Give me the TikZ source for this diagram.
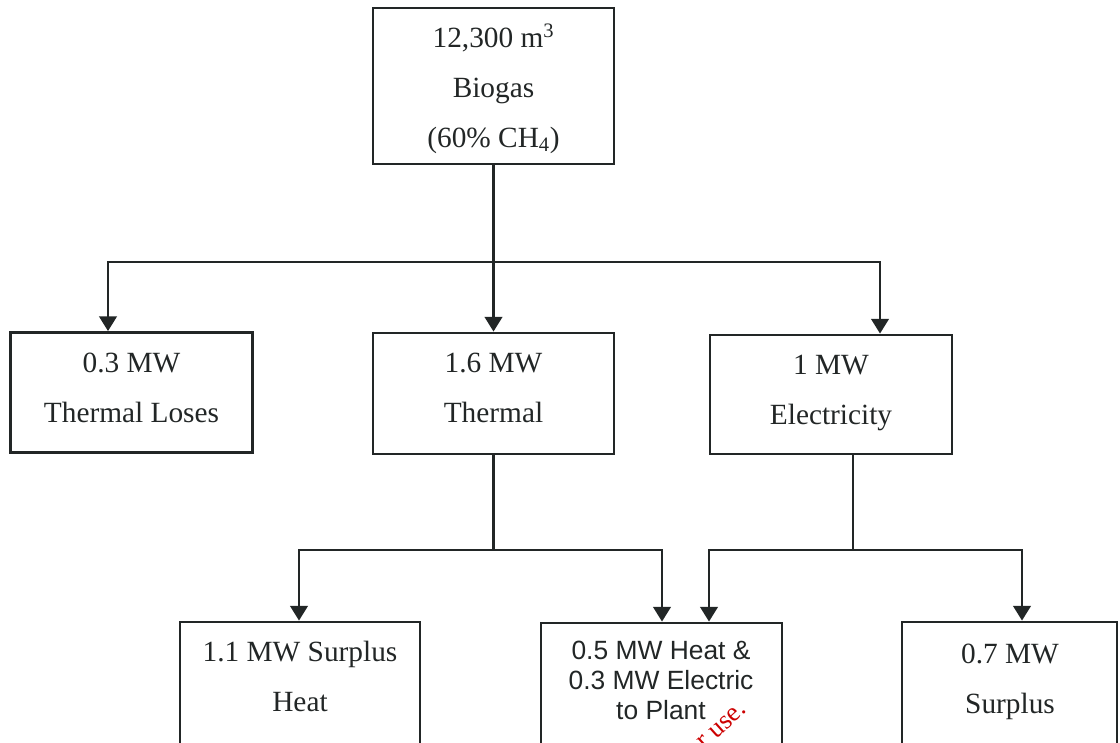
\documentclass[tikz,border=0pt]{standalone}
\usepackage{fontspec}
\setmainfont{Liberation Serif}
\newfontfamily\arialf{Liberation Sans}
\usetikzlibrary{arrows.meta}
\definecolor{ink}{HTML}{222626}
\tikzset{
  box/.style={draw=ink, line width=2.1pt, rectangle, inner sep=0pt},
  txt/.style={align=center, text=ink, inner sep=0pt, font=\fontsize{22}{37.5}\selectfont},
  stxt/.style={align=center, text=ink, inner sep=0pt, font=\arialf\fontsize{19.8}{22.5}\selectfont},
  link/.style={draw=ink, line width=2.1pt},
  arr/.style={draw=ink, line width=2.1pt, -{Triangle[width=13pt,length=11pt]}}
}
\begin{document}
\begin{tikzpicture}[x=0.75pt,y=-0.75pt]
\useasboundingbox (0,0) rectangle (1120,742);
\clip (0,0) rectangle (1120,742);
% boxes
\node[box, minimum width=241*0.75pt, minimum height=156*0.75pt] (bio) at (493.5,86) {};
\node[box, minimum width=242*0.75pt, minimum height=120*0.75pt] (loss) at (131.5,392.5) {};
\node[box, minimum width=241*0.75pt, minimum height=121*0.75pt] (therm) at (493.5,393.5) {};
\node[box, minimum width=242*0.75pt, minimum height=119*0.75pt] (elec) at (831,394.5) {};
\node[box, minimum width=240*0.75pt, minimum height=160*0.75pt] (heat) at (300,702) {};
\node[box, minimum width=241*0.75pt, minimum height=160*0.75pt] (plant) at (661.5,703) {};
\node[box, minimum width=215*0.75pt, minimum height=160*0.75pt] (surp) at (1009.5,702) {};
% texts
\node[txt] (bioT) at (493.5,89) {12,300 m\textsuperscript{3}\\Biogas\\(60\% CH\textsubscript{4})};
\node[txt] (lossT) at (131.5,388) {0.3 MW\\Thermal Loses};
\node[txt] (thermT) at (493.5,387.5) {1.6 MW\\Thermal};
\node[txt] (elecT) at (831,393) {1 MW\\Electricity};
\node[txt] (heatT) at (300,676) {1.1 MW Surplus\\Heat};
\node[stxt] (plantT) at (661,680) {0.5 MW Heat \&\\0.3 MW Electric\\to Plant};
\node[txt] (surpT) at (1010,681.5) {0.7 MW\\Surplus};
% junctions
\coordinate (j1) at (493.5,262);
\coordinate (l1) at (108,262);
\coordinate (r1) at (880,262);
\coordinate (j2) at (493.5,550);
\coordinate (l2) at (299,550);
\coordinate (r2) at (662,550);
\coordinate (e0) at (853,454);
\coordinate (j3) at (853,550);
\coordinate (l3) at (709,550);
\coordinate (r3) at (1022,550);
% connectors
\draw[arr] (bio.south) -- (therm.north);
\draw[arr] (j1) -- (l1) -- (l1 |- loss.north);
\draw[arr] (j1) -- (r1) -- (r1 |- elec.north);
\draw[link] (therm.south) -- (j2);
\draw[arr] (j2) -- (l2) -- (l2 |- heat.north);
\draw[arr] (j2) -- (r2) -- (r2 |- plant.north);
\draw[link] (e0) -- (j3);
\draw[arr] (j3) -- (l3) -- (l3 |- plant.north);
\draw[arr] (j3) -- (r3) -- (r3 |- surp.north);
% watermark fragment
\node[text=red!80!black, rotate=42, inner sep=0pt, font=\fontsize{20}{20}\selectfont] (wm) at (722,726) {r use.};
\end{tikzpicture}
\end{document}
